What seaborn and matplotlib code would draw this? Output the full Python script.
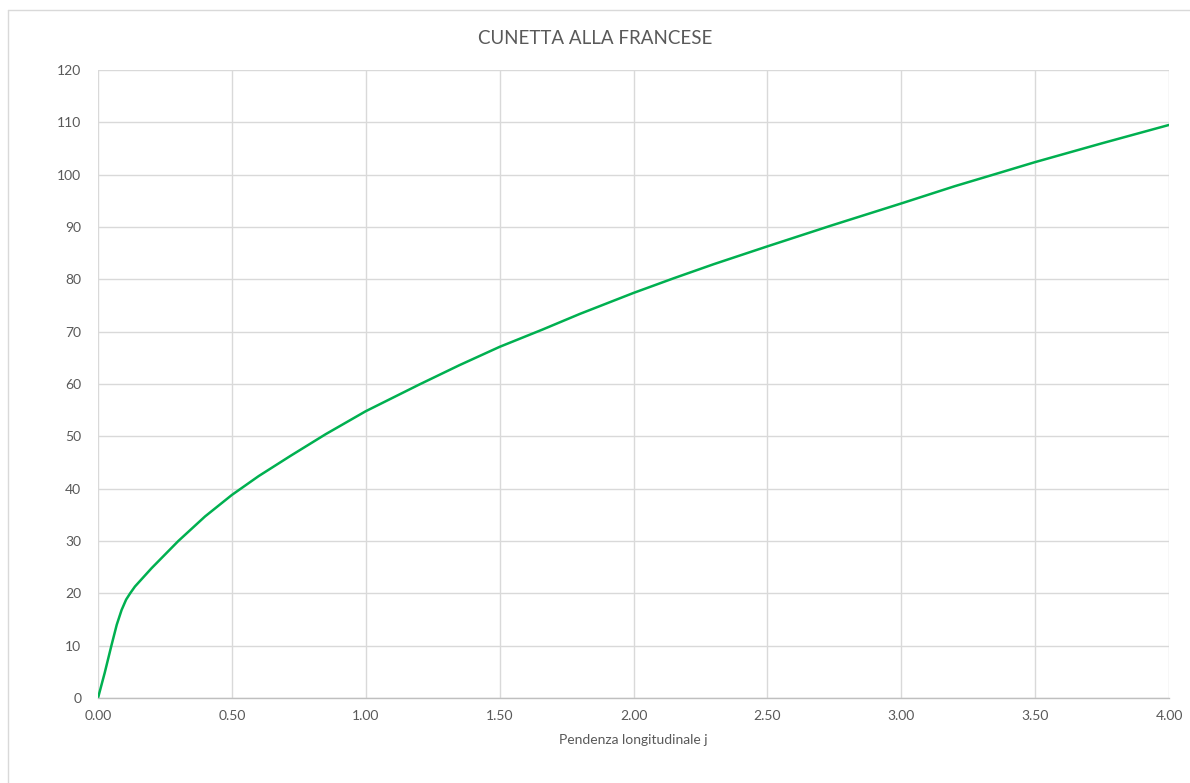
import numpy as np
import pandas as pd
import matplotlib
matplotlib.use("Agg")
import matplotlib.pyplot as plt
import seaborn as sns
from matplotlib.lines import Line2D

# values
pendenza = [0.0, 0.025, 0.05, 0.07, 0.088, 0.105, 0.12, 0.138, 0.2, 0.3, 0.4, 0.5, 0.6,
            0.72, 0.85, 1.0, 1.2, 1.35, 1.5, 1.66, 1.8, 2.0, 2.15, 2.3, 2.5,
            2.74, 3.0, 3.2, 3.37, 3.5, 3.75, 4.0]
portata = [0.0, 4.8, 10.0, 14.0, 16.8, 18.8, 20.0, 21.3, 24.8, 30.0, 34.7, 38.8, 42.4,
           46.3, 50.4, 54.8, 59.9, 63.6, 67.1, 70.4, 73.4, 77.4, 80.2, 82.9, 86.3,
           90.3, 94.5, 97.8, 100.4, 102.4, 106.0, 109.5]
x_ticks = [0.0, 0.5, 1.0, 1.5, 2.0, 2.5, 3.0, 3.5, 4.0]
y_ticks = list(range(0, 121, 10))

df = pd.DataFrame({"j": pendenza, "Q": portata})

sns.set_style("white")
plt.rcParams["font.family"] = ["Lato", "DejaVu Sans"]

fig = plt.figure(figsize=(11.9, 7.83), dpi=100)
ax = fig.add_axes([98 / 1190, 1 - 698 / 783, (1169 - 98) / 1190, (698 - 70) / 783])

sns.lineplot(data=df, x="j", y="Q", ax=ax, color="#00B050", linewidth=1.8,
             solid_joinstyle="round", solid_capstyle="round")

ax.set_xlim(0, 4)
ax.set_ylim(0, 120)
ax.set_xticks(x_ticks)
ax.set_xticklabels([f"{v:.2f}" for v in x_ticks])
ax.set_yticks(y_ticks)
ax.grid(True, color="#D9D9D9", linewidth=1)
ax.set_axisbelow(True)
for side in ["top", "right", "left"]:
    ax.spines[side].set_visible(False)
ax.spines["bottom"].set_color("#BFBFBF")
ax.spines["bottom"].set_linewidth(1)
ax.tick_params(axis="both", length=0, labelsize=10, colors="#595959")
ax.tick_params(axis="y", pad=12)
ax.tick_params(axis="x", pad=9)

ax.set_xlabel("Pendenza longitudinale j", fontsize=10, color="#595959", labelpad=8)
ax.set_ylabel("")
fig.text(0.5, 1 - 38 / 783, "CUNETTA ALLA FRANCESE", ha="center", va="center",
         fontsize=13.5, color="#595959")

# chart area border (left and top visible)
fig.add_artist(Line2D([8 / 1190, 8 / 1190], [0, 1 - 10 / 783], transform=fig.transFigure,
                      color="#D9D9D9", linewidth=1))
fig.add_artist(Line2D([8 / 1190, 1], [1 - 10 / 783, 1 - 10 / 783], transform=fig.transFigure,
                      color="#D9D9D9", linewidth=1))

fig.savefig("out.png", dpi=100, facecolor="white")
plt.close(fig)
